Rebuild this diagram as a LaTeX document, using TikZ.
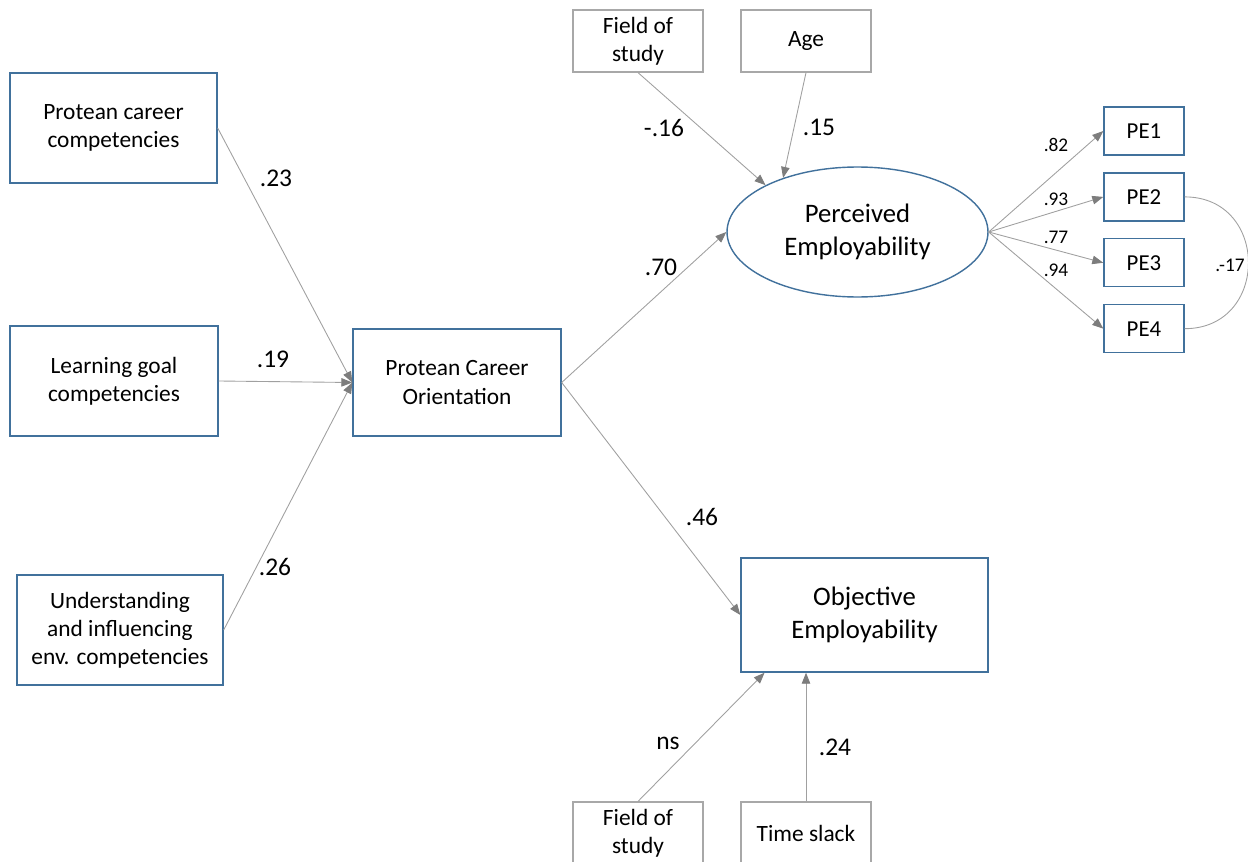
\documentclass[tikz,border=0pt]{standalone}
\usepackage{fontspec}
\setmainfont{Carlito}
\usepackage{tikz}
\usetikzlibrary{arrows.meta, shapes.geometric, positioning}
\definecolor{boxblue}{RGB}{65,113,156}
\definecolor{boxgray}{RGB}{168,168,168}
\definecolor{linegray}{RGB}{160,160,160}
\definecolor{tipgray}{RGB}{125,125,125}
\tikzset{
  constbox/.style={
    rectangle, minimum width=#1, minimum height=2.2cm,
    align=center, font=\fontsize{13.3}{16}\selectfont,
    draw=boxblue, line width=0.8pt, fill=white
  },
  ctrlbox/.style={
    rectangle, minimum width=2.6cm, minimum height=1.24cm,
    align=center, font=\fontsize{13.3}{16}\selectfont,
    draw=boxgray, line width=0.7pt, fill=white
  },
  itembox/.style={
    rectangle, minimum width=1.6cm, minimum height=0.96cm,
    font=\fontsize{13}{15}\selectfont,
    draw=boxblue, line width=0.8pt, fill=white
  },
  latent/.style={
    ellipse, minimum width=5.22cm, minimum height=2.6cm, inner sep=0pt,
    align=center, font=\fontsize{15.2}{18.5}\selectfont,
    draw=boxblue, line width=0.8pt, fill=white
  },
  patharrow/.style={-{Triangle[length=0.22cm,width=0.17cm,color=tipgray]},
    draw=linegray, line width=0.5pt},
  coeflabel/.style={font=\fontsize{14.5}{17}\selectfont, inner sep=0pt},
  loadlabel/.style={font=\fontsize{11}{13}\selectfont, inner sep=0pt},
}
\begin{document}
\begin{tikzpicture}[x=0.02cm, y=-0.02cm]
  \useasboundingbox (0,0) rectangle (1248,862);
  % predictors
  \node[constbox=4.14cm] (pcc) at (113.5,128) {Protean career\\competencies};
  \node[constbox=4.16cm] (lgc) at (114,381) {Learning goal\\competencies};
  \node[constbox=4.12cm] (uie) at (120,630) {Understanding\\and influencing\\env. competencies};
  \node[constbox=4.16cm, minimum height=2.14cm] (pco) at (457,382.5) {Protean Career\\Orientation};
  % outcomes
  \node[latent] (pe) at (857.5,232) {Perceived\\Employability};
  \node[constbox=4.94cm, minimum height=2.28cm,
        font=\fontsize{15.2}{18.5}\selectfont] (oe) at (864.5,615) {Objective\\Employability};
  % controls
  \node[ctrlbox] (fos1) at (638,41) {Field of\\study};
  \node[ctrlbox] (age) at (806,41) {\raisebox{-2pt}{Age}};
  \node[ctrlbox] (fos2) at (638,833) {Field of\\study};
  \node[ctrlbox] (ts) at (806,833) {Time slack};
  % indicators
  \node[itembox] (pe1) at (1144,131) {PE1};
  \node[itembox, below=0.33cm of pe1] (pe2) {PE2};
  \node[itembox, below=0.33cm of pe2] (pe3) {PE3};
  \node[itembox, below=0.33cm of pe3] (pe4) {PE4};

  \draw[patharrow] (pcc.east) -- (pco.west);
  \draw[patharrow] (lgc.east) -- (pco.west);
  \draw[patharrow] (uie.east) -- (pco.west);
  \draw[patharrow] (pco.east) -- (pe.west);
  \draw[patharrow] (pco.east) -- (oe.west);
  \draw[patharrow] (fos1.south) -- (pe.153);
  \draw[patharrow] (age.south) -- (pe.144);
  \draw[patharrow] (fos2.north) -- (oe.210);
  \draw[patharrow] (ts.north) -- (ts.north |- oe.south);
  \draw[patharrow] (pe.east) -- (pe1.west);
  \draw[patharrow] (pe.east) -- (pe2.west);
  \draw[patharrow] (pe.east) -- (pe3.west);
  \draw[patharrow] (pe.east) -- (pe4.west);
  \draw[linegray, line width=0.5pt] (pe2.east) .. controls +(85,0) and +(85,0) .. (pe4.east);

  % coefficients
  \node[coeflabel] (c1) at (276,178) {.23};
  \node[coeflabel] (c2) at (273,359) {.19};
  \node[coeflabel] (c3) at (275,567) {.26};
  \node[coeflabel] (c4) at (661,267) {.70};
  \node[coeflabel] (c5) at (702,517) {.46};
  \node[coeflabel] (c6) at (664,128) {-.16};
  \node[coeflabel] (c7) at (819,127) {.15};
  \node[coeflabel] (c8) at (668,743) {ns};
  \node[coeflabel] (c9) at (835,747) {.24};
  \node[loadlabel] (l1) at (1056,145) {.82};
  \node[loadlabel] (l2) at (1056,199) {.93};
  \node[loadlabel] (l3) at (1056,237) {.77};
  \node[loadlabel] (l4) at (1056,270) {.94};
  \node[loadlabel] (l5) at (1230,265) {.-17};
\end{tikzpicture}
\end{document}
